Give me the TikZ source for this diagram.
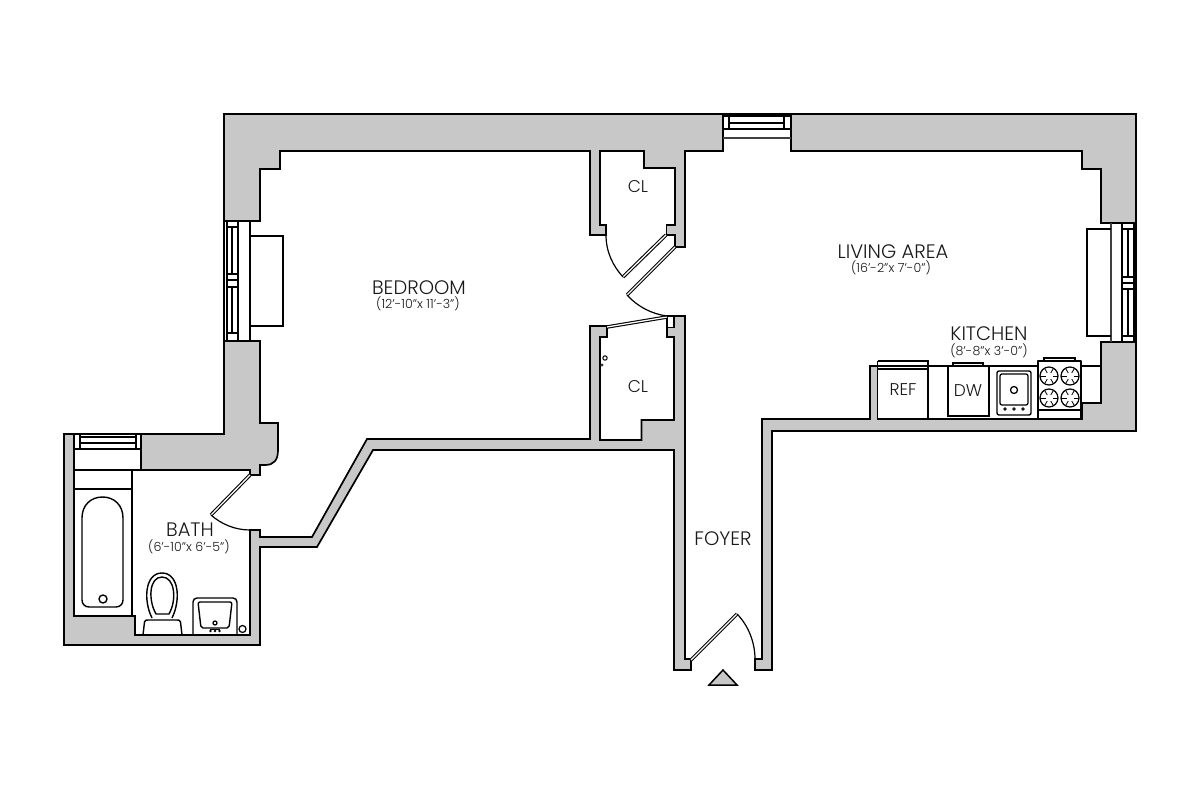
\documentclass[tikz,border=0pt]{standalone}
\usepackage{fontspec}
\setmainfont{Poppins}[UprightFont=* Light]
\definecolor{wallgray}{HTML}{C8C8C8}
\tikzset{
  wall/.style={fill=wallgray,draw=black,line width=1.7pt,line join=miter},
  fix/.style={draw=black,line width=1.4pt,line join=round},
  thin/.style={draw=black,line width=1.25pt},
  dark/.style={draw=black!75,line width=1.8pt},
  panel/.style={draw=black,double=white,double distance=1.3pt,line width=1.1pt},
  swing/.style={draw=black,line width=1.2pt},
  room/.style={font=\fontsize{19.5}{21}\selectfont,text=black!90,inner sep=0pt},
  dim/.style={font=\fontsize{12.6}{14}\selectfont,text=black!90,inner sep=0pt},
  item/.style={font=\fontsize{17}{19}\selectfont,text=black!90,inner sep=0pt}
}
\begin{document}
\begin{tikzpicture}[x=1pt,y=-1pt]
\useasboundingbox (0,0) rectangle (1200,800);
% ---- walls
\path[wall] (224,221)--(224,114)--(723,114)--(723,151)--(685,151)--(685,247)--(675,247)--(675,235)--(666.5,235)--(666.5,225)--(675,225)--(675,168)--(644,168)--(644,151)--(600,151)--(600,225)--(606,225)--(606,235)--(590,235)--(590,151)--(280,151)--(280,169)--(260,169)--(260,221)--cycle;
\path[wall] (791,151)--(791,114)--(1136,114)--(1136,223)--(1101,223)--(1101,169)--(1082,169)--(1082,151)--cycle;
\path[wall] (1101,342)--(1136,342)--(1136,431)--(772,431)--(772,670)--(755,670)--(755,659)--(762,659)--(762,419)--(870,419)--(870,366)--(877.5,366)--(877.5,419)--(1082,419)--(1082,403)--(1101,403)--cycle;
\path[wall] (674,316)--(685,316)--(685,659)--(691,659)--(691,670)--(674,670)--(674,450)--(373,450)--(317,547)--(260,547)--(260,645)--(64,645)--(64,434)--(74,434)--(74,616)--(135,616)--(135,635)--(250,635)--(250,530)--(260,530)--(260,537)--(312,537)--(367,439)--(590,439)--(590,326)--(607,326)--(607,337)--(600,337)--(600,440)--(641.5,440)--(641.5,420)--(674,420)--(674,337)--(667,337)--(667,327)--(674,327)--cycle;
\path[wall] (224,341)--(260,341)--(260,423)--(278,423)--(278,450) .. controls (278,460) and (274,465) .. (265,465)--(260,465)--(260,475)--(250,475)--(250,470)--(141,470)--(141,434)--(224,434)--cycle;
\draw[wall,fill=white] (667,327)--(667,316)--(674,316)--(674,327);
% ---- doors
\draw[panel] (666,235)--(623,277);
\draw[panel] (675,247)--(627,295);
\draw[panel] (607,327)--(667,317);
\draw[panel] (250,475)--(211,515);
\draw[panel] (691,660)--(737,614);
\draw[swing] (606,235) .. controls (606,252) and (613,266) .. (623,277);
\draw[swing] (627,295) .. controls (638,307) and (652,314) .. (667,316);
\draw[swing] (211,515) .. controls (221,524) and (235,530) .. (250,530);
\draw[swing] (737,614) .. controls (748,625) and (755,642) .. (755,659);
\path[wall,line width=1.5pt] (709,685)--(737,685)--(723,670)--cycle;
% ---- small closet marks
\draw[thin,line width=1pt] (605,358) circle (2.2);
\fill[black!80] (602,365) circle (1.6);
% ---- top window
\draw[thin] (723,114)--(791,114) (723,116)--(791,116) (729,123)--(784,123) (723,129)--(791,129) (729,116)--(729,129) (784,116)--(784,129);
\draw[thin] (723,114)--(723,138) (791,114)--(791,138);
\draw[dark] (723,138)--(791,138);
% ---- right window
\draw[thin] (1101,223)--(1136,223) (1101,342)--(1136,342) (1122,223)--(1122,342) (1134,223)--(1134,342) (1122,229)--(1134,229) (1128,229)--(1128,277) (1122,277)--(1134,277) (1122,283)--(1134,283) (1122,289)--(1134,289) (1128,289)--(1128,336) (1122,336)--(1134,336) (1136,223)--(1136,342);
\draw[dark] (1111,223)--(1111,342);
\draw[thin] (1111,229)--(1087,229)--(1087,336)--(1111,336);
% ---- left window
\draw[thin] (224,221)--(260,221) (224,341)--(260,341) (224,221)--(224,341) (227,221)--(227,341) (238,221)--(238,341) (227,227)--(238,227) (232,227)--(232,274) (227,274)--(238,274) (227,280)--(238,280) (227,287)--(238,287) (232,287)--(232,333) (227,333)--(238,333) (250,221)--(250,341);
\draw[thin] (250,236)--(283,236)--(283,326)--(250,326);
% ---- bath
\draw[thin] (74,434)--(141,434) (74,449)--(141,449) (74,470)--(141,470) (80,437)--(136,437) (80,443)--(136,443) (80,434)--(80,449) (136,434)--(136,449) (132,470)--(132,616) (74,489)--(132,489);
\draw[fix] (82,518) .. controls (82,505) and (91,497) .. (102.5,497) .. controls (114,497) and (123,505) .. (123,518) -- (123,600) .. controls (123,604) and (120,607) .. (116,607) -- (89,607) .. controls (85,607) and (82,604) .. (82,600) -- cycle;
\draw[fix] (103,599) circle (4);
\draw[fix] (152,618) .. controls (143,600) and (145,573) .. (162,573) .. controls (179,573) and (181,600) .. (172,618);
\draw[fix] (156,614) .. controls (148,600) and (149,577) .. (162,577) .. controls (175,577) and (177,600) .. (169,614) -- cycle;
\draw[fix] (143,635) -- (144.5,622) .. controls (145,620) and (146,620) .. (148,620) -- (177,620) .. controls (179,620) and (180,620) .. (180.5,622) -- (182,635);
\draw[fix,rounded corners=4pt] (193,635)--(193,598)--(237,598)--(237,635);
\draw[fix,rounded corners=2pt] (198,602)--(232,602)--(229,628)--(201,628)--cycle;
\draw[thin,fill=white] (215,623) circle (2);
\fill (210.5,631) circle (1.4) (215,631) circle (1.4) (219.5,631) circle (1.4);
\draw[thin,line width=.8pt] (210,629.5)--(220,629.5);
\draw[thin] (242.5,629) circle (3.5);
% ---- kitchen
\draw[thin] (877.5,361)--(928,361)--(928,419) (877.5,361)--(877.5,369) (877.5,369)--(928,369) (877.5,366)--(928,366);
\draw[thin] (928,366)--(948,366) (989,366)--(1038,366) (1081,366)--(1101,366);
\draw[thin] (948,366)--(948,416)--(989,416)--(989,366)--cycle;
\draw[thin] (953,366)--(953,363)--(983,363)--(983,366);
\draw[fix,rounded corners=2pt] (997,371) rectangle (1031,415);
\draw[thin,rounded corners=2pt] (1000,374) rectangle (1028,405);
\draw[thin] (1014,390) circle (3.5);
\foreach \kx in {1005,1014,1023} \draw[thin,line width=.8pt] (\kx,409) circle (1.3);
\draw[fix] (1038,361) rectangle (1081,419);
\draw[thin] (1038,410)--(1081,410);
\draw[thin] (1044,361)--(1044,358)--(1075,358)--(1075,361);
\foreach \bx/\by in {1049/376,1070/376,1049/398,1070/398}{
  \draw[thin] (\bx,\by) circle (9);
  \foreach \ba in {0,60,120,180,240,300}
    \draw[thin,line width=.8pt] (\bx,\by) ++(\ba:3.5) -- ++(\ba:5.5);
}
% ---- labels
\node[room] (bedroom) at (419,288) {BEDROOM};
\node[dim] (bedroomdim) at (418,304) {(12'-10"x 11'-3")};
\node[room] (living) at (893,252) {LIVING AREA};
\node[dim] (livingdim) at (891,268) {(16'-2"x 7'-0")};
\node[room] (kitchen) at (989,334) {KITCHEN};
\node[dim] (kitchendim) at (989,351) {(8'-8"x 3'-0")};
\node[room] (bath) at (190,530) {BATH};
\node[dim] (bathdim) at (189,547) {(6'-10"x 6'-5")};
\node[room] (foyer) at (723,539) {FOYER};
\node[item] (cla) at (638,187) {CL};
\node[item] (clb) at (638,387) {CL};
\node[item] (ref) at (903,390) {REF};
\node[item] (dw) at (968,391) {DW};
\end{tikzpicture}
\end{document}
